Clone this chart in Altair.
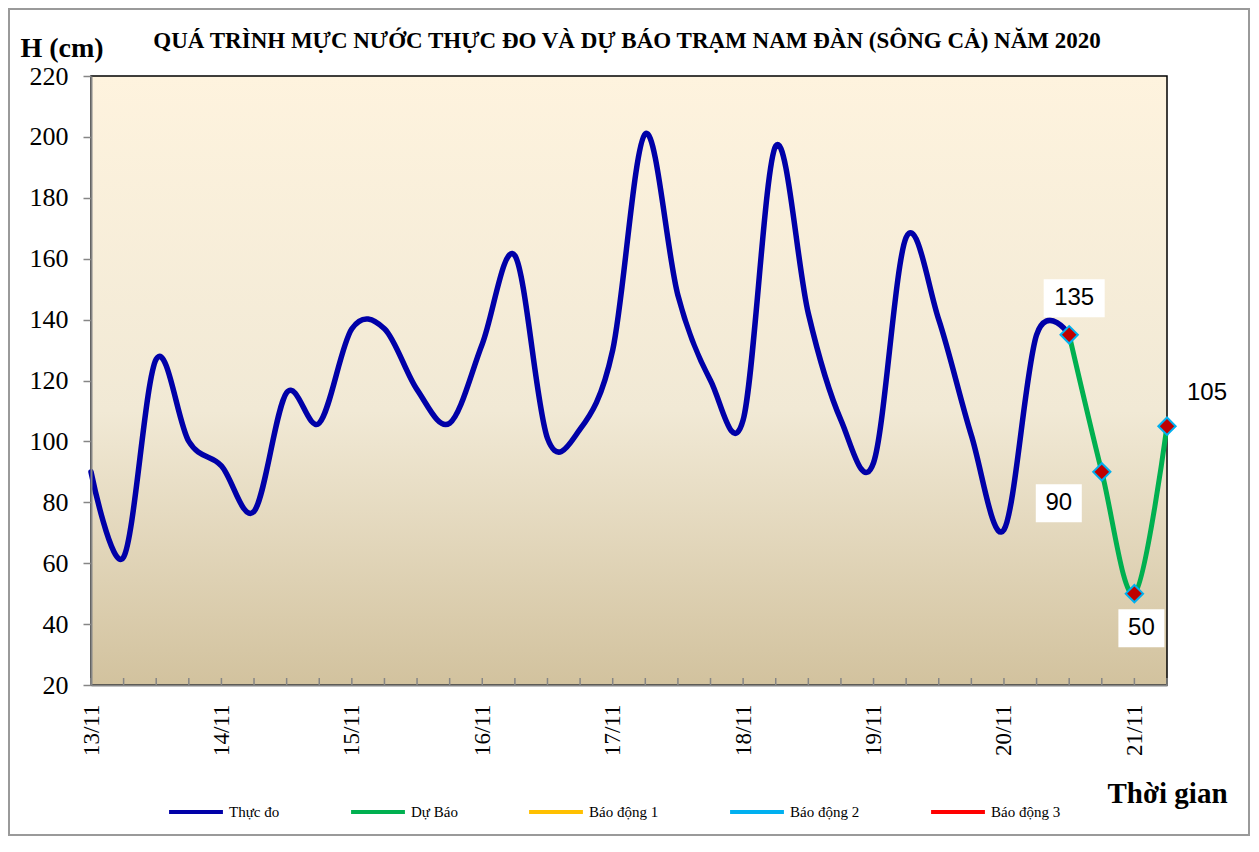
import altair as alt
import pandas as pd

# ---- data ----
start = "2020-11-13T00:00:00Z"
observed = [90, 62, 127, 100, 92, 77, 116, 106, 137, 137, 117, 106, 132, 161,
            101, 104, 130, 201, 148, 120, 107, 197, 142, 107, 93, 167, 140, 102,
            71, 135, 135]
forecast = [135, 90, 50, 105]
series_names = ["Thực đo", "Dự Báo", "Báo động 1", "Báo động 2", "Báo động 3"]
series_colors = ["#0000A8", "#00B050", "#FFC000", "#00B0F0", "#FF0000"]
y_ticks = [20, 40, 60, 80, 100, 120, 140, 160, 180, 200, 220]
title_text = "QUÁ TRÌNH MỰC NƯỚC THỰC ĐO VÀ DỰ BÁO TRẠM  NAM  ĐÀN (SÔNG CẢ) NĂM 2020"

# ---- styles ----
W, H = 1076, 609
SERIF = "Liberation Serif"
SANS = "Liberation Sans"
label_offsets = [(5, -36.5), (-43, 31.5), (7, 34.5), (40, -33)]
label_boxes = [(61, 38), (46, 38), (46, 38), None]

t0 = pd.Timestamp(start)
obs_times = [t0 + pd.Timedelta(hours=6 * i) for i in range(len(observed))]
fc_times = [obs_times[-1] + pd.Timedelta(hours=6 * i) for i in range(len(forecast))]
all_times = obs_times + fc_times[1:]


def iso(t):
    return t.strftime("%Y-%m-%dT%H:%M:%SZ")


def ms(t):
    return int(t.value // 10**6)


obs_df = pd.DataFrame({"t": [iso(t) for t in obs_times], "h": observed,
                       "series": series_names[0]})
fc_df = pd.DataFrame({"t": [iso(t) for t in fc_times], "h": forecast,
                      "series": series_names[1]})
fc_df["label"] = fc_df["h"].astype(str)
fc_df["k"] = list(range(len(forecast)))
tick_df = pd.DataFrame({"t": [iso(t) for t in all_times]})

x_scale = alt.Scale(type="utc", domain=[ms(all_times[0]), ms(all_times[-1])], nice=False)
y_scale = alt.Scale(domain=[20, 220], nice=False, zero=False)
color_scale = alt.Scale(domain=series_names, range=series_colors)

x_axis = alt.Axis(
    values=[ms(t) for t in all_times],
    labelExpr="utchours(datum.value) == 0 ? utcFormat(datum.value, '%d/%m') : ''",
    labelAngle=270, labelFont=SERIF, labelFontSize=23, labelColor="black",
    labelPadding=19, labelOverlap=False, labelFlush=False, labelBound=False,
    ticks=False, grid=False,
    domainColor="#868686", domainWidth=2,
    title="Thời gian", titleFont=SERIF, titleFontSize=29, titleFontWeight="bold",
    titleColor="black", titleAlign="left", titleBaseline="alphabetic",
    titleAngle=0, titleX=1016, titleY=117, zindex=1,
)
y_axis = alt.Axis(
    values=y_ticks, tickSize=8, tickColor="#868686", tickWidth=1.5,
    domainColor="#868686", domainWidth=2, grid=False,
    labelFont=SERIF, labelFontSize=26, labelColor="black", labelPadding=15,
    title="H (cm)", titleFont=SERIF, titleFontSize=28, titleFontWeight="bold",
    titleColor="black", titleAngle=0, titleAlign="left",
    titleBaseline="alphabetic", titleX=-71, titleY=-20, zindex=1,
)

X = alt.X("t:T", scale=x_scale, axis=x_axis)
Y = alt.Y("h:Q", scale=y_scale, axis=y_axis)

frame = alt.Chart(alt.Data(values=[{}])).mark_rect(
    filled=False, stroke="#9A9A9A", strokeWidth=2
).encode(x=alt.value(-82), x2=alt.value(W + 82), y=alt.value(-67), y2=alt.value(H + 150))

title = alt.Chart(alt.Data(values=[{"title": title_text}])).mark_text(
    font=SERIF, fontSize=23, fontWeight="bold", color="black",
    align="center", baseline="alphabetic"
).encode(x=alt.value(W / 2 - 2), y=alt.value(-28), text="title:N")

background = alt.Chart(alt.Data(values=[{}])).mark_rect(
    fill=alt.Gradient(
        gradient="linear", x1=0, x2=0, y1=0, y2=1,
        stops=[alt.GradientStop(offset=0, color="#FEF3DE"),
               alt.GradientStop(offset=0.55, color="#F1E9D5"),
               alt.GradientStop(offset=1, color="#D2C29E")],
    ),
    stroke="black", strokeWidth=1.5,
).encode(x=alt.value(0), x2=alt.value(W), y=alt.value(0), y2=alt.value(H))

inner_ticks = alt.Chart(tick_df).mark_rule(color="#868686", strokeWidth=1.5).encode(
    x=alt.X("t:T", scale=x_scale, axis=x_axis), y=alt.value(H), y2=alt.value(H - 7)
)

legend = alt.Legend(
    orient="none", legendX=76, legendY=707, direction="horizontal", columns=5,
    symbolType="stroke", symbolSize=2900, symbolStrokeWidth=4,
    labelFont=SERIF, labelFontSize=15, labelColor="black", labelOffset=4,
    columnPadding=63, padding=0, title=None, labelLimit=300,
)
color = alt.Color("series:N", scale=color_scale, legend=legend)

obs_line = alt.Chart(obs_df).mark_line(
    interpolate="cardinal", strokeWidth=5.5, strokeCap="round"
).encode(x=X, y=Y, color=color)

fc_line = alt.Chart(fc_df).mark_line(
    interpolate="cardinal", strokeWidth=5, strokeCap="round"
).encode(x=X, y=Y, color=color)

fc_points = alt.Chart(fc_df).mark_point(
    shape="diamond", filled=True, fill="#C00000", stroke="#00B0F0",
    strokeWidth=2, size=300, opacity=1
).encode(x=X, y=Y)

layers = [frame, title, background, inner_ticks, obs_line, fc_line, fc_points]
for i, ((dx, dy), box) in enumerate(zip(label_offsets, label_boxes)):
    one = alt.Chart(fc_df).transform_filter(alt.datum.k == i)
    if box is not None:
        layers.append(one.mark_rect(
            color="white", width=box[0], height=box[1], xOffset=dx, yOffset=dy
        ).encode(x=X, y=Y))
    layers.append(one.mark_text(
        font=SANS, fontSize=24, color="black", dx=dx, dy=dy,
        align="center", baseline="middle"
    ).encode(x=X, y=Y, text="label:N"))

chart = alt.layer(*layers).properties(
    width=W, height=H,
    padding={"left": 83, "top": 68, "right": 84, "bottom": 152},
    autosize=alt.AutoSizeParams(type="none"),
    background="white",
).configure_view(stroke="transparent")

chart.save("out.html", embed_options={"renderer": "svg", "actions": False})
